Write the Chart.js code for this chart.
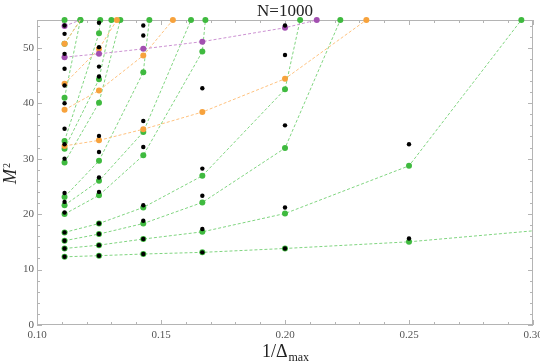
<!DOCTYPE html>
<html>
<head>
<meta charset="utf-8">
<script src="https://cdn.jsdelivr.net/npm/chart.js@4.4.1/dist/chart.umd.min.js"></script>
<style>
body{margin:0;background:#fff}
#wrap{width:540px;height:362px}
</style>
</head>
<body>
<div id="wrap"><canvas id="chart"></canvas></div>
<script>
// x positions: 1/Delta_max for Delta_max = 9 .. 3
const invDelta = [1/9, 1/8, 1/7, 1/6, 1/5, 1/4, 1/3];

const xRange = [0.10, 0.30];
const yRange = [0, 55];
const xTickLabels = [0.10, 0.15, 0.20, 0.25, 0.30];
const yTickLabels = [0, 10, 20, 30, 40, 50];

// green levels (values at 1/9, 1/8, 1/7 ...)
const green1 = [12.3, 12.5, 12.8, 13.1, 13.8, 15.0, 18.3];
const green2 = [13.8, 14.4, 15.5, 16.8, 20.1, 28.7];
const green3 = [15.2, 16.4, 18.3, 22.1, 31.9];
const green4 = [16.7, 18.3, 21.2, 26.9, 42.5];
const green5 = [20.0, 23.4, 30.6, 49.3];
const green6 = [21.6, 26.0, 34.8];
const green7 = [23.1, 29.6, 45.6];
const green8 = [29.3, 40.1];
const green9 = [31.8, 44.3];
const green10 = [33.2, 52.6];
const green11 = [41.0];
const green12 = [50.7];
const green13 = [55.0];
// where each green level leaves through the top of the frame
const greenTopExit = [null, 0.2953, 0.2223, 0.2061, 0.1679, 0.1621, 0.1453, 0.1336, 0.1300, 0.1255, 0.1175, 0.1175, null];

// orange levels
const orange1 = [32.3, 33.3, 35.3, 38.4, 44.4];
const orange2 = [38.8, 42.3, 48.6];
const orange3 = [43.5, 49.8];
const orange4 = [50.7];
const orangeTopExit = [0.2328, 0.1548, 0.1322, 0.1175];

// purple levels
const purple1 = [48.3, 48.9, 49.8, 51.1, 53.6];
const purple2 = [53.9];
const purpleTopExit = [0.2128, 0.1175];

// black points, one array per 1/Delta_max column
const black9 = [54.0, 52.5, 48.9, 46.2, 43.2, 40.0, 35.4, 32.6, 30.0, 23.8, 22.2, 20.3, 16.7, 15.2, 13.8, 12.3];
const black8 = [54.5, 50.1, 46.6, 44.8, 34.1, 31.2, 26.6, 24.0, 18.3, 16.4, 14.4, 12.5];
const black7 = [54.0, 52.2, 36.8, 32.1, 21.6, 18.8, 15.5, 12.8];
const black6 = [42.7, 28.2, 23.3, 17.3, 13.1];
const black5 = [54.0, 48.7, 36.0, 21.2, 13.8];
const black4 = [32.6, 15.6];

const greenLevels = [green1, green2, green3, green4, green5, green6, green7, green8, green9, green10, green11, green12, green13];
const orangeLevels = [orange1, orange2, orange3, orange4];
const purpleLevels = [purple1, purple2];
const blackColumns = [black9, black8, black7, black6, black5, black4];

function levelPoints(ys, exitX) {
  const pts = ys.map((y, i) => ({x: invDelta[i], y: y}));
  if (exitX != null) pts.push({x: exitX, y: yRange[1]});
  return pts;
}

// hideExit: levels whose marker on the top edge is covered by another colour
function levelSets(levels, exits, lineColor, dotColor, order, hideExit) {
  return levels.map((ys, i) => {
    const pts = levelPoints(ys, exits[i]);
    const radius = pts.map((p, k) => (hideExit && hideExit.includes(i) && k === pts.length - 1) ? 0 : 3);
    return {
      data: pts,
      showLine: true,
      borderColor: lineColor,
      borderWidth: 1,
      borderDash: [3, 2],
      pointRadius: radius,
      pointBorderWidth: 0,
      pointBackgroundColor: dotColor,
      order: order,
      clip: {left: 4, top: 4, right: 0, bottom: 4}
    };
  });
}

const blackData = [];
blackColumns.forEach((col, i) => col.forEach(y => blackData.push({x: invDelta[i], y: y})));

const datasets = [
  {data: blackData, showLine: false, pointRadius: 2.2, pointBorderWidth: 0, pointBackgroundColor: '#000', order: 0},
  ...levelSets(purpleLevels, purpleTopExit, '#cc92d2', '#a24fb0', 1, [1]),
  ...levelSets(orangeLevels, orangeTopExit, '#ffc27f', '#f7a23c', 2, [3]),
  ...levelSets(greenLevels, greenTopExit, '#80d580', '#3fba3f', 3)
];

const serif = '"Liberation Serif", "DejaVu Serif", serif';

const frame = {
  id: 'frame',
  beforeDatasetsDraw(chart) {
    const ctx = chart.ctx;
    const a = chart.chartArea;
    const xs = chart.scales.x, ys = chart.scales.y;
    ctx.save();
    ctx.strokeStyle = '#b4b4b4';
    ctx.lineWidth = 1;
    ctx.strokeRect(a.left + 0.5, a.top + 0.5, a.right - a.left - 1, a.bottom - a.top - 1);
    ctx.beginPath();
    for (let k = 0; k <= 20; k++) {
      const v = xRange[0] + k * 0.01;
      const px = Math.round(xs.getPixelForValue(v)) + 0.5;
      const len = k % 5 === 0 ? 5 : 3;
      ctx.moveTo(px, a.bottom); ctx.lineTo(px, a.bottom - len);
      ctx.moveTo(px, a.top); ctx.lineTo(px, a.top + len);
    }
    for (let v = 0; v <= yRange[1]; v += 2) {
      const py = Math.round(ys.getPixelForValue(v)) + 0.5;
      const len = v % 10 === 0 ? 5 : 3;
      ctx.moveTo(a.left, py); ctx.lineTo(a.left + len, py);
      ctx.moveTo(a.right, py); ctx.lineTo(a.right - len, py);
    }
    ctx.stroke();

    ctx.fillStyle = '#555';
    ctx.font = '11px ' + serif;
    ctx.textAlign = 'right';
    ctx.textBaseline = 'middle';
    yTickLabels.forEach(v => ctx.fillText(String(v), a.left - 3, ys.getPixelForValue(v)));
    ctx.textAlign = 'center';
    ctx.textBaseline = 'top';
    xTickLabels.forEach(v => ctx.fillText(v.toFixed(2), xs.getPixelForValue(v), a.bottom + 5));

    // title
    ctx.fillStyle = '#222';
    ctx.font = '17px ' + serif;
    ctx.textBaseline = 'alphabetic';
    ctx.fillText('N=1000', (a.left + a.right) / 2, 16);

    // x title 1/Δ_max
    ctx.textAlign = 'left';
    ctx.font = '18px ' + serif;
    const main = '1/\u0394';
    const w1 = ctx.measureText(main).width;
    ctx.font = '12px ' + serif;
    const w2 = ctx.measureText('max').width;
    const x0 = (a.left + a.right) / 2 - (w1 + w2) / 2;
    ctx.font = '18px ' + serif;
    ctx.fillText(main, x0, 357);
    ctx.font = '12px ' + serif;
    ctx.fillText('max', x0 + w1 + 1, 361);

    // y title M^2
    ctx.translate(15.5, 184);
    ctx.rotate(-Math.PI / 2);
    ctx.font = 'italic 18px ' + serif;
    ctx.fillText('M', 0, 0);
    const wm = ctx.measureText('M').width;
    ctx.font = '10px ' + serif;
    ctx.fillText('2', wm + 1, -6);
    ctx.restore();
  }
};

new Chart(document.getElementById('chart'), {
  type: 'scatter',
  data: {datasets: datasets},
  options: {
    responsive: true,
    maintainAspectRatio: false,
    animation: false,
    layout: {padding: {left: 37, right: 7, top: 20, bottom: 37}},
    plugins: {legend: {display: false}, tooltip: {enabled: false}},
    scales: {
      x: {type: 'linear', min: xRange[0], max: xRange[1], display: false},
      y: {type: 'linear', min: yRange[0], max: yRange[1], display: false}
    }
  },
  plugins: [frame]
});
</script>
</body>
</html>
